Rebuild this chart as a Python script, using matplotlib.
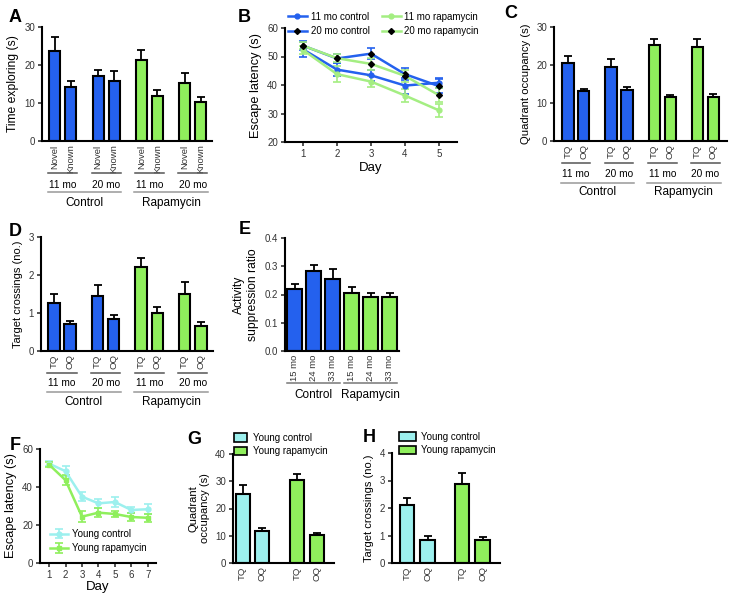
import numpy as np
import matplotlib
matplotlib.use('Agg')
import matplotlib.pyplot as plt
from matplotlib.patches import Patch
from matplotlib.lines import Line2D

plt.rcParams['font.family'] = ['Liberation Sans', 'DejaVu Sans']
plt.rcParams['axes.linewidth'] = 1.5
plt.rcParams['xtick.color'] = '#333333'
plt.rcParams['ytick.color'] = '#333333'

BLUE = '#2461EE'
GREEN = '#8FEF5C'
CYAN = '#9CF0EE'
LGREEN = '#A4EE82'

# ---- data ----
# A: novel object exploration
a_labels = ['Novel', 'Known'] * 4
a_mean = [23.6, 14.1, 17.0, 15.9, 21.4, 11.9, 15.3, 10.2]
a_err = [3.8, 1.6, 1.7, 2.6, 2.6, 1.4, 2.6, 1.4]

# B: escape latency, old mice
b_days = [1, 2, 3, 4, 5]
b_11c = [52.5, 45.4, 43.4, 39.8, 40.8]
b_11c_err = [2.5, 2.2, 2.0, 2.8, 1.8]
b_20c = [53.8, 49.3, 51.0, 43.8, 39.6]
b_20c_err = [1.5, 1.6, 2.0, 2.2, 2.5]
b_11r = [52.3, 43.8, 41.2, 36.3, 31.1]
b_11r_err = [1.5, 2.8, 1.8, 2.4, 2.2]
b_20r = [53.8, 49.4, 47.4, 43.2, 36.4]
b_20r_err = [1.2, 1.5, 2.0, 2.0, 2.5]

# C: quadrant occupancy
tq_oq = ['TQ', 'OQ'] * 4
c_mean = [20.4, 13.2, 19.5, 13.5, 25.2, 11.6, 24.8, 11.7]
c_err = [2.1, 0.5, 2.2, 0.6, 1.7, 0.5, 2.1, 0.6]

# D: target crossings
d_mean = [1.26, 0.71, 1.45, 0.83, 2.21, 0.99, 1.49, 0.67]
d_err = [0.24, 0.09, 0.30, 0.13, 0.25, 0.16, 0.33, 0.10]

# E: activity suppression ratio
e_labels = ['15 mo', '24 mo', '33 mo'] * 2
e_mean = [0.219, 0.282, 0.254, 0.206, 0.191, 0.191]
e_err = [0.017, 0.022, 0.035, 0.021, 0.015, 0.016]

# F: escape latency, young mice
f_days = [1, 2, 3, 4, 5, 6, 7]
f_ctrl = [52.3, 48.3, 34.9, 31.4, 32.1, 27.9, 28.3]
f_ctrl_err = [1.5, 2.5, 2.5, 2.5, 2.5, 1.5, 2.5]
f_rapa = [51.8, 43.6, 24.4, 26.5, 25.8, 24.2, 23.8]
f_rapa_err = [1.5, 2.5, 2.8, 2.5, 1.5, 2.0, 2.0]

# G / H: young mice probe trial
gh_labels = ['TQ', 'OQ', 'TQ', 'OQ']
g_mean = [25.4, 11.9, 30.3, 10.3]
g_err = [3.1, 0.9, 2.5, 0.7]
h_mean = [2.12, 0.85, 2.88, 0.85]
h_err = [0.24, 0.12, 0.39, 0.08]

pos8 = np.array([0, 1, 2.7, 3.7, 5.4, 6.4, 8.1, 9.1])
col8 = [BLUE] * 4 + [GREEN] * 4

fig = plt.figure(figsize=(7.44, 5.96), dpi=100)


def px_axes(x0, y0, x1, y1):
    return fig.add_axes([x0 / 744, 1 - y1 / 596, (x1 - x0) / 744, (y1 - y0) / 596])


def style(ax):
    ax.spines['top'].set_visible(False)
    ax.spines['right'].set_visible(False)
    ax.tick_params(axis='both', labelsize=7, width=1.2, length=3, direction='out', pad=2)


def bars(ax, pos, mean, err, colors, width=0.7):
    ax.bar(pos, mean, width=width, color=colors, edgecolor='black', linewidth=1.5, zorder=2)
    ax.errorbar(pos, mean, yerr=[np.zeros(len(err)), err], fmt='none', ecolor='black',
                elinewidth=1.3, capsize=3, capthick=1.3, zorder=1)


def bar_labels(ax, pos, labels):
    ax.set_xticks(pos)
    ax.set_xticklabels(labels, rotation=90, fontsize=6.8,
                       family=['Liberation Sans Narrow', 'Liberation Sans'])
    ax.tick_params(axis='x', length=0, pad=2.5)


def bracket(ax, x0, x1, y, text, ty, color='#555555', fs=8):
    tr = ax.get_xaxis_transform()
    ax.plot([x0, x1], [y, y], transform=tr, color=color, lw=1.1, clip_on=False)
    ax.text((x0 + x1) / 2, ty, text, transform=tr, ha='center', va='center', fontsize=fs)


def old_groups(ax, y1, t1, y2, t2):
    for i in range(4):
        p = pos8[2 * i]
        bracket(ax, p - 0.4, p + 1.4, y1, ['11 mo', '20 mo'][i % 2], t1, fs=7.3)
    bracket(ax, pos8[0] - 0.45, pos8[3] + 0.45, y2, 'Control', t2, color='#999999', fs=8.5)
    bracket(ax, pos8[4] - 0.45, pos8[7] + 0.45, y2, 'Rapamycin', t2, color='#999999', fs=8.5)


# ---- A ----
axA = px_axes(42, 27, 212, 141)
style(axA)
bars(axA, pos8, a_mean, a_err, col8)
axA.set_ylim(0, 30)
axA.set_yticks([0, 10, 20, 30])
axA.set_xlim(-0.8, 9.8)
bar_labels(axA, pos8, a_labels)
axA.set_ylabel('Time exploring (s)', fontsize=8.7)
old_groups(axA, -0.28, -0.385, -0.447, -0.54)

# ---- B ----
axB = px_axes(285, 28, 457, 142)
style(axB)
series = [(b_11c, b_11c_err, BLUE, 'o', BLUE, '11 mo control'),
          (b_20c, b_20c_err, BLUE, 'D', 'black', '20 mo control'),
          (b_11r, b_11r_err, LGREEN, 'o', LGREEN, '11 mo rapamycin'),
          (b_20r, b_20r_err, LGREEN, 'D', 'black', '20 mo rapamycin')]
handles = []
for m, e, c, mk, mc, lab in series:
    ms = 3.5 if mk == 'o' else 3
    axB.errorbar(b_days, m, yerr=e, color=c, lw=1.8, marker=mk, ms=ms,
                 mfc=mc, mec=mc, elinewidth=1.2, capsize=3, capthick=1.2)
    handles.append(Line2D([], [], color=c, lw=1.8, marker=mk, ms=ms,
                          mfc=mc, mec=mc, label=lab))
axB.set_xlim(0.47, 5.53)
axB.set_ylim(20, 60)
axB.set_yticks([20, 30, 40, 50, 60])
axB.set_xticks(b_days)
axB.set_xlabel('Day', fontsize=9.5, labelpad=2)
axB.set_ylabel('Escape latency (s)', fontsize=9.2)
axB.legend(handles=handles, ncol=2, loc='center',
           bbox_to_anchor=(0.573, 1.035), frameon=False, fontsize=7, handlelength=1.9,
           columnspacing=1.3, handletextpad=0.4, labelspacing=0.45, borderaxespad=0)

# ---- C ----
axC = px_axes(554, 27, 727, 141)
style(axC)
bars(axC, pos8, c_mean, c_err, col8)
axC.set_ylim(0, 30)
axC.set_yticks([0, 10, 20, 30])
axC.set_xlim(-0.87, 9.95)
bar_labels(axC, pos8, tq_oq)
axC.set_ylabel('Quadrant occupancy (s)', fontsize=8.1)
old_groups(axC, -0.193, -0.29, -0.368, -0.447)

# ---- D ----
axD = px_axes(41, 237, 213, 351)
style(axD)
bars(axD, pos8, d_mean, d_err, col8)
axD.set_ylim(0, 3)
axD.set_yticks([0, 1, 2, 3])
axD.set_xlim(-0.8, 9.85)
bar_labels(axD, pos8, tq_oq)
axD.set_ylabel('Target crossings (no.)', fontsize=8)
old_groups(axD, -0.193, -0.28, -0.36, -0.447)

# ---- E ----
axE = px_axes(285, 238, 399, 351)
style(axE)
e_pos = np.arange(6)
bars(axE, e_pos, e_mean, e_err, [BLUE] * 3 + [GREEN] * 3, width=0.74)
axE.set_ylim(0, 0.4)
axE.set_yticks([0.0, 0.1, 0.2, 0.3, 0.4])
axE.set_yticklabels(['0.0', '0.1', '0.2', '0.3', '0.4'])
axE.set_xlim(-0.5, 5.5)
bar_labels(axE, e_pos, e_labels)
axE.set_ylabel('Activity\nsuppression ratio', fontsize=8.7)
bracket(axE, -0.4, 2.4, -0.285, 'Control', -0.39, color='#777777', fs=8.5)
bracket(axE, 2.6, 5.4, -0.285, 'Rapamycin', -0.39, color='#777777', fs=8.5)

# ---- F ----
axF = px_axes(40, 449, 156, 563)
style(axF)
axF.errorbar(f_days, f_ctrl, yerr=f_ctrl_err, color=CYAN, lw=1.8, marker='o', ms=3.5,
             elinewidth=1.2, capsize=3, capthick=1.2, label='Young control')
axF.errorbar(f_days, f_rapa, yerr=f_rapa_err, color=GREEN, lw=1.8, marker='s', ms=3.5,
             elinewidth=1.2, capsize=3, capthick=1.2, label='Young rapamycin')
axF.set_xlim(0.45, 7.5)
axF.set_ylim(0, 60)
axF.set_yticks([0, 20, 40, 60])
axF.set_xticks(f_days)
axF.set_xlabel('Day', fontsize=9.5, labelpad=1)
axF.set_ylabel('Escape latency (s)', fontsize=9.2)
axF.legend(loc='lower left', bbox_to_anchor=(0.05, 0.05), frameon=False, fontsize=7,
           handlelength=1.9, handletextpad=0.4, labelspacing=0.45, borderaxespad=0)

# ---- G ----
gh_pos = np.array([0, 1, 2.8, 3.8])
gh_cols = [CYAN, CYAN, GREEN, GREEN]
leg_handles = [Patch(facecolor=CYAN, edgecolor='black', lw=1.2, label='Young control'),
               Patch(facecolor=GREEN, edgecolor='black', lw=1.2, label='Young rapamycin')]
axG = px_axes(233, 454, 334, 563)
style(axG)
bars(axG, gh_pos, g_mean, g_err, gh_cols, width=0.72)
axG.set_ylim(0, 40)
axG.set_yticks([0, 10, 20, 30, 40])
axG.set_xlim(-0.5, 4.7)
bar_labels(axG, gh_pos, gh_labels)
axG.set_ylabel('Quadrant\noccupancy (s)', fontsize=8)
axG.legend(handles=leg_handles, loc='lower left', bbox_to_anchor=(0.0, 0.97), frameon=False,
           fontsize=7, handlelength=1.3, handleheight=1.0, handletextpad=0.7,
           labelspacing=0.35, borderaxespad=0, borderpad=0.1)

# ---- H ----
axH = px_axes(392, 453, 500, 563)
style(axH)
hpos = np.array([0, 1, 2.66, 3.66])
bars(axH, hpos, h_mean, h_err, gh_cols, width=0.7)
axH.set_ylim(0, 4)
axH.set_yticks([0, 1, 2, 3, 4])
axH.set_xlim(-0.73, 4.5)
bar_labels(axH, hpos, gh_labels)
axH.set_ylabel('Target crossings (no.)', fontsize=8)
axH.legend(handles=leg_handles, loc='lower left', bbox_to_anchor=(0.06, 0.97), frameon=False,
           fontsize=7, handlelength=1.7, handleheight=1.0, handletextpad=0.5,
           labelspacing=0.35, borderaxespad=0, borderpad=0.1)

# panel letters
for letter, x, y in [('A', 15, 18), ('B', 244, 18), ('C', 511, 14), ('D', 15, 231),
                     ('E', 245, 229), ('F', 15, 445), ('G', 194, 440), ('H', 369, 438)]:
    fig.text(x / 744, 1 - y / 596, letter, fontsize=13, fontweight='bold',
             ha='center', va='center')

fig.savefig('out.png', dpi=100)
